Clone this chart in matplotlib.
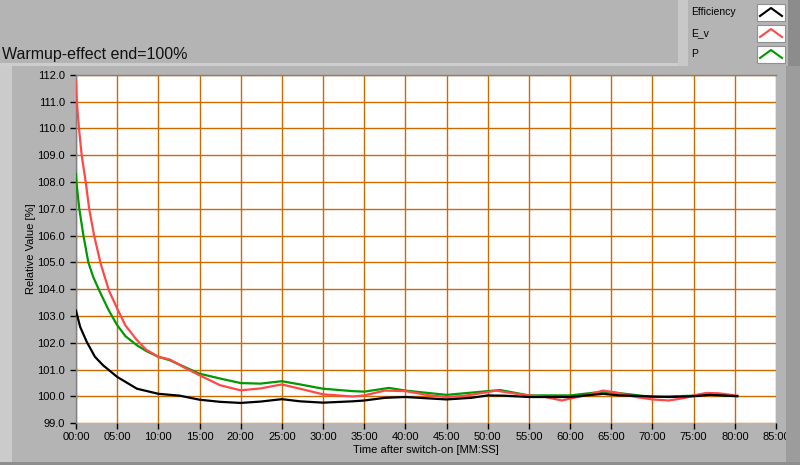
import matplotlib
matplotlib.use("Agg")
import matplotlib.pyplot as plt
from matplotlib.patches import Rectangle
from matplotlib.ticker import FuncFormatter, MultipleLocator

# time in minutes
t_eff = [0, 0.5, 1.3, 2.3, 3.3, 5, 7.4, 10, 12.6, 15, 17.5, 20, 22.4, 25, 27.2, 30, 33.6,
         35, 37.5, 40, 45, 48, 50, 52, 55, 60, 64, 66, 70, 72, 75, 77, 80.3]
eff = [103.2, 102.6, 102.04, 101.48, 101.16, 100.73, 100.29, 100.1, 100.03, 99.88, 99.8, 99.76,
       99.81, 99.9, 99.82, 99.77, 99.82, 99.85, 99.95, 99.98, 99.89, 99.95, 100.04, 100.03,
       99.98, 99.98, 100.1, 100.04, 100.0, 99.98, 100.01, 100.06, 100.01]

t_ev = [0, 0.1, 0.36, 0.69, 1.18, 1.6, 2.2, 3.0, 4.0, 5, 6.0, 7.4, 8.5, 10, 11.4, 13.4, 15, 17.5,
        20, 22.4, 25, 27.2, 30, 33.6, 35, 37.5, 40, 43, 45, 47, 50, 51, 53, 55, 57, 59, 60, 62,
        64, 66, 68, 70, 72, 74, 75, 76.5, 78, 80.3]
ev = [111.75, 111.0, 110.0, 109.0, 108.0, 107.0, 106.0, 104.95, 103.95, 103.28, 102.65, 102.1,
      101.75, 101.48, 101.38, 101.04, 100.79, 100.42, 100.23, 100.3, 100.45, 100.29, 100.08,
      100.0, 100.04, 100.22, 100.2, 100.04, 99.98, 100.02, 100.16, 100.22, 100.12, 100.04,
      99.98, 99.85, 99.92, 100.05, 100.22, 100.12, 99.98, 99.89, 99.85, 99.95, 100.04, 100.13,
      100.12, 100.03]

t_p = [0, 0.05, 0.4, 0.9, 1.5, 2.1, 2.9, 4.0, 5, 6.0, 7.4, 8.5, 10, 11.4, 15, 17.5, 20, 22.4,
       25, 27.2, 30, 33.6, 35, 38, 40, 45, 50, 51.5, 55, 60, 64, 65, 70, 75, 77, 80.3]
p = [108.3, 108.0, 107.0, 106.0, 105.0, 104.45, 103.9, 103.2, 102.66, 102.25, 101.91, 101.7,
     101.48, 101.35, 100.85, 100.67, 100.5, 100.48, 100.57, 100.45, 100.29, 100.2, 100.18,
     100.32, 100.22, 100.06, 100.2, 100.24, 100.04, 100.04, 100.18, 100.16, 99.98, 100.03,
     100.07, 100.02]

series_names = ["Efficiency", "E_v", "P"]
series_colors = ["#000000", "#ff4848", "#009900"]

FONT = "Liberation Sans"
bg = "#b4b4b4"
fig = plt.figure(figsize=(8, 4.65), dpi=100, facecolor=bg)

def frect(x, y, w, h, color, z=0, **kw):
    fig.patches.append(Rectangle((x / 800, 1 - (y + h) / 465), w / 800, h / 465,
                                 transform=fig.transFigure, facecolor=color,
                                 edgecolor=kw.get("ec", "none"), lw=kw.get("lw", 0), zorder=z))

# decorative panel frame
frect(0, 63, 678, 3, "#cdcdcd")
frect(0, 66, 12, 399, "#cbcbcb")
frect(786, 63, 14, 402, "#9c9c9c")
frect(0, 462, 800, 3, "#8e8e8e")

ax = fig.add_axes([76 / 800, (465 - 423.3) / 465, 700 / 800, (423.3 - 74.7) / 465])
ax.set_facecolor("white")
grid_c = "#cc6a00"
ax.set_xlim(0, 85)
ax.set_ylim(99, 112)
ax.xaxis.set_major_locator(MultipleLocator(5))
ax.yaxis.set_major_locator(MultipleLocator(1))
ax.xaxis.set_major_formatter(FuncFormatter(lambda v, pos: f"{int(round(v)):02d}:00"))
ax.yaxis.set_major_formatter(FuncFormatter(lambda v, pos: f"{v:.1f}"))
ax.grid(True, color=grid_c, linewidth=1.0)
ax.set_axisbelow(True)
for s in ax.spines.values():
    s.set_color("#808080")
    s.set_linewidth(1.0)
ax.spines["bottom"].set_visible(False)
ax.spines["right"].set_visible(False)
ax.tick_params(axis="both", labelsize=8, colors="#000000", length=4.5, width=1,
               direction="out")
ax.tick_params(axis="y", pad=3.5)
ax.tick_params(axis="x", pad=2)
for lab in ax.get_xticklabels() + ax.get_yticklabels():
    lab.set_fontfamily(FONT)

ax.plot(t_eff, eff, color=series_colors[0], lw=1.6, zorder=5)
ax.plot(t_p, p, color=series_colors[2], lw=1.6, zorder=3)
ax.plot(t_ev, ev, color=series_colors[1], lw=1.6, zorder=4)

ax.set_xlabel("Time after switch-on [MM:SS]", fontsize=8, labelpad=2, fontfamily=FONT)
ax.set_ylabel("Relative Value [%]", fontsize=8, labelpad=1, fontfamily=FONT)

fig.text(2 / 800, 1 - 55 / 465, "Warmup-effect end=100%", fontsize=11.5, va="center",
         ha="left", color="#111111", fontfamily=FONT)

# legend panel
frect(678, 0, 122, 66, bg, z=1)
frect(678, 0, 10, 66, "#c8c8c8", z=1)
frect(788, 0, 12, 66, "#8c8c8c", z=1)
for i, (name, col) in enumerate(zip(series_names, series_colors)):
    yc = 12 + i * 21
    fig.text(691 / 800, 1 - yc / 465, name, fontsize=7.5, va="center", ha="left", zorder=3,
             fontfamily=FONT)
    frect(757, yc - 8, 28, 17, "white", z=2, ec="#909090", lw=0.8)
    xs = [760 / 800, 771 / 800, 782 / 800]
    ys = [1 - (yc + 4) / 465, 1 - (yc - 4) / 465, 1 - (yc + 4) / 465]
    fig.lines.append(plt.Line2D(xs, ys, transform=fig.transFigure, color=col, lw=1.5, zorder=3))

fig.savefig("out.png", dpi=100, facecolor=bg)
